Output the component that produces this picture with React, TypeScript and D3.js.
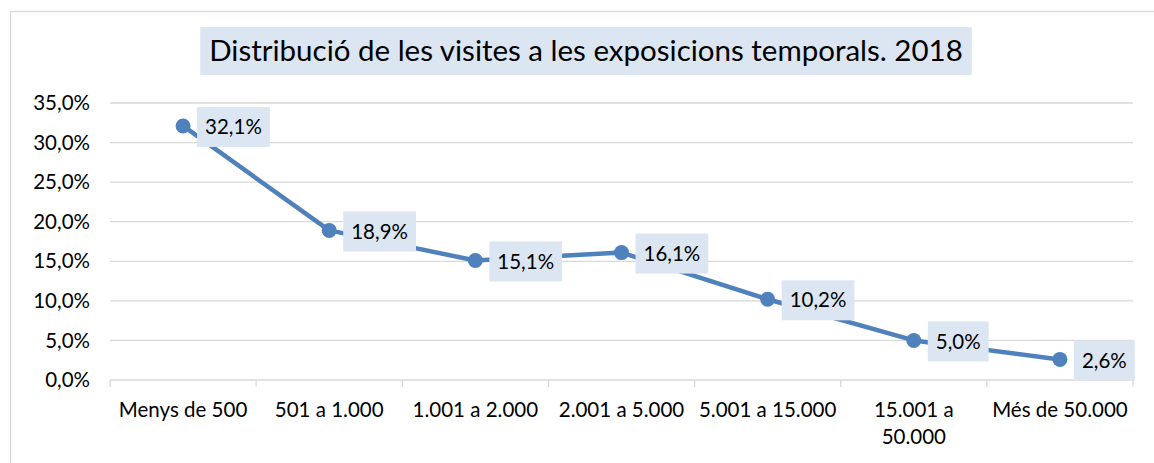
import React, { useEffect, useRef } from 'react';
import * as d3 from 'd3';

const title = 'Distribució de les visites a les exposicions temporals. 2018';
const categories = [
  'Menys de 500',
  '501 a 1.000',
  '1.001 a 2.000',
  '2.001 a 5.000',
  '5.001 a 15.000',
  '15.001 a\n50.000',
  'Més de 50.000'
];
const values = [32.1, 18.9, 15.1, 16.1, 10.2, 5.0, 2.6];
const yTicks = [0, 5, 10, 15, 20, 25, 30, 35];

const width = 1154;
const height = 463;
const margin = { top: 103, right: 21, bottom: 83, left: 110 };
const font = 'Lato, "Noto Sans", sans-serif';

const pct = (v: number) => d3.format('.1f')(v).replace('.', ',') + '%';

const App = () => {
  const svgRef = useRef<SVGSVGElement | null>(null);

  useEffect(() => {
    document.body.style.margin = '0';
    const svg = d3.select(svgRef.current);
    svg.selectAll('*').remove();

    const x = d3
      .scaleBand<string>()
      .domain(categories)
      .range([margin.left, width - margin.right]);
    const y = d3
      .scaleLinear()
      .domain([0, 35])
      .range([height - margin.bottom, margin.top]);

    // outer chart border
    svg
      .append('rect')
      .attr('x', 10.5)
      .attr('y', 11.5)
      .attr('width', 1160)
      .attr('height', 470)
      .attr('fill', '#fff')
      .attr('stroke', '#D9D9D9')
      .attr('stroke-width', 1.3);

    // title
    const tg = svg.append('g');
    const tRect = tg.append('rect').attr('fill', '#DCE6F2');
    const tText = tg
      .append('text')
      .attr('x', 586)
      .attr('y', 51)
      .attr('dy', '0.35em')
      .attr('text-anchor', 'middle')
      .style('font-family', font)
      .style('font-size', '29.5px')
      .text(title);
    const tb = (tText.node() as SVGTextElement).getBBox();
    tRect
      .attr('x', tb.x - 9)
      .attr('y', 27)
      .attr('width', tb.width + 18)
      .attr('height', 48);

    // gridlines
    svg
      .append('g')
      .selectAll('line')
      .data(yTicks)
      .enter()
      .append('line')
      .attr('x1', margin.left)
      .attr('x2', width - margin.right)
      .attr('y1', (d) => y(d))
      .attr('y2', (d) => y(d))
      .attr('stroke', '#D9D9D9')
      .attr('stroke-width', 1.3);

    // y labels
    svg
      .append('g')
      .selectAll('text')
      .data(yTicks)
      .enter()
      .append('text')
      .attr('x', 90)
      .attr('y', (d) => y(d))
      .attr('dy', '0.35em')
      .attr('text-anchor', 'end')
      .style('font-family', font)
      .style('font-size', '20.5px')
      .text((d) => pct(d));

    // x tick marks at band boundaries
    const bounds = categories.map((c) => x(c) as number).concat([width - margin.right]);
    svg
      .append('g')
      .selectAll('line')
      .data(bounds)
      .enter()
      .append('line')
      .attr('x1', (d) => d)
      .attr('x2', (d) => d)
      .attr('y1', y(0))
      .attr('y2', y(0) + 7)
      .attr('stroke', '#D9D9D9')
      .attr('stroke-width', 1.3);

    // x labels
    const xl = svg
      .append('g')
      .selectAll('text')
      .data(categories)
      .enter()
      .append('text')
      .attr('x', (d) => (x(d) as number) + x.bandwidth() / 2)
      .attr('y', 410)
      .attr('text-anchor', 'middle')
      .style('font-family', font)
      .style('font-size', '20.5px');
    xl.each(function (d) {
      const lines = d.split('\n');
      lines.forEach((l, i) => {
        d3.select(this)
          .append('tspan')
          .attr('x', (x(d) as number) + x.bandwidth() / 2)
          .attr('dy', i === 0 ? '0.35em' : '1.32em')
          .text(l);
      });
    });

    // line
    const pts = categories.map((c, i) => ({
      c,
      v: values[i],
      px: (x(c) as number) + x.bandwidth() / 2,
      py: y(values[i])
    }));
    const line = d3
      .line<{ px: number; py: number }>()
      .x((d) => d.px)
      .y((d) => d.py);
    svg
      .append('path')
      .datum(pts)
      .attr('d', line)
      .attr('fill', 'none')
      .attr('stroke', '#4F81BD')
      .attr('stroke-width', 4.5)
      .attr('stroke-linejoin', 'round');

    svg
      .append('g')
      .selectAll('circle')
      .data(pts)
      .enter()
      .append('circle')
      .attr('cx', (d) => d.px)
      .attr('cy', (d) => d.py)
      .attr('r', 7.5)
      .attr('fill', '#4F81BD');

    // value labels
    const lg = svg
      .append('g')
      .selectAll('g')
      .data(pts)
      .enter()
      .append('g');
    lg.each(function (d) {
      const g = d3.select(this);
      const r = g.append('rect').attr('fill', '#DCE6F2');
      const t = g
        .append('text')
        .attr('x', d.px + 22)
        .attr('y', d.py + 1)
        .attr('dy', '0.35em')
        .style('font-family', font)
        .style('font-size', '20.5px')
        .text(pct(d.v));
      const w = (t.node() as SVGTextElement).getComputedTextLength();
      r.attr('x', d.px + 14)
        .attr('y', d.py + 1 - 20)
        .attr('width', w + 16)
        .attr('height', 40);
    });
  }, []);

  return <svg ref={svgRef} width={width} height={height} style={{ display: 'block' }}></svg>;
};

export default App;
